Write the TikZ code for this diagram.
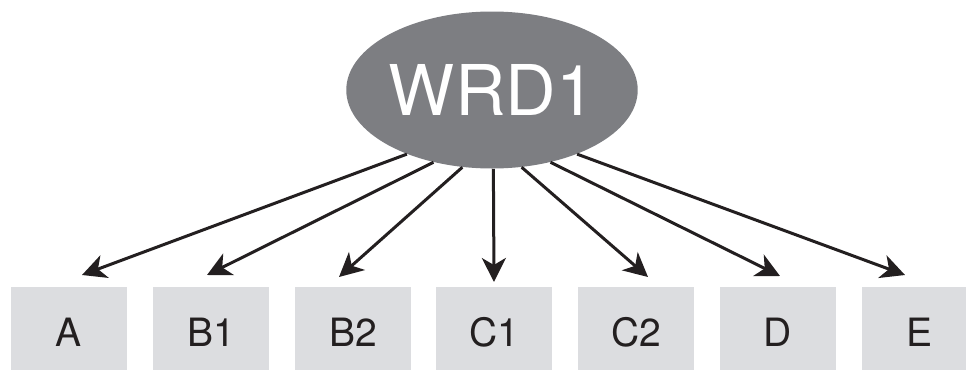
\documentclass[tikz,border=0pt]{standalone}
\usepackage{fontspec}
\setmainfont{TeX Gyre Heros}
\usetikzlibrary{shapes}
\usetikzlibrary{arrows.meta}

\definecolor{factorgray}{RGB}{125,126,130}
\definecolor{itemgray}{RGB}{220,221,224}
\definecolor{inkblack}{RGB}{35,31,32}

\begin{document}
\begin{tikzpicture}[x=0.5pt,y=-0.5pt]
  \useasboundingbox (0,0) rectangle (966,370);
  \tikzset{factor/.style = {shape=ellipse,fill=factorgray,text=white,inner sep=0pt,
      minimum width=122.5pt,minimum height=78.5pt,font=\fontsize{35}{35}\selectfont}}
  \tikzset{item/.style = {shape=rectangle,fill=itemgray,text=inkblack,inner sep=0pt,
      minimum width=58pt,minimum height=45pt,font=\fontsize{19.5}{20}\selectfont}}
  \tikzset{edge/.style = {-{Stealth[length=12pt,width=12pt,inset=3.5pt]},line width=1.5pt,draw=inkblack}}
  % latent factor
  \node[factor] (wrd) at (492,90) {WRD1};
  % indicators
  \node[item] (a)  at (69,332)  {A};
  \node[item] (b1) at (211,332) {B1};
  \node[item] (b2) at (353,332) {B2};
  \node[item] (c1) at (494,332) {C1};
  \node[item] (c2) at (636,332) {C2};
  \node[item] (d)  at (778,332) {D};
  \node[item] (e)  at (920,332) {E};
  % arrow tips above the boxes
  \coordinate (ta)  at (82,275);
  \coordinate (tb1) at (207,275);
  \coordinate (tb2) at (339,277);
  \coordinate (tc1) at (494,282);
  \coordinate (tc2) at (648,277);
  \coordinate (td)  at (780,276);
  \coordinate (te)  at (905,275);
  %edges
  \draw[edge] (wrd.217) -- (ta);
  \draw[edge] (wrd.231) -- (tb1);
  \draw[edge] (wrd.249) -- (tb2);
  \draw[edge] (wrd.271) -- (tc1);
  \draw[edge] (wrd.291) -- (tc2);
  \draw[edge] (wrd.309) -- (td);
  \draw[edge] (wrd.323) -- (te);
\end{tikzpicture}
\end{document}
